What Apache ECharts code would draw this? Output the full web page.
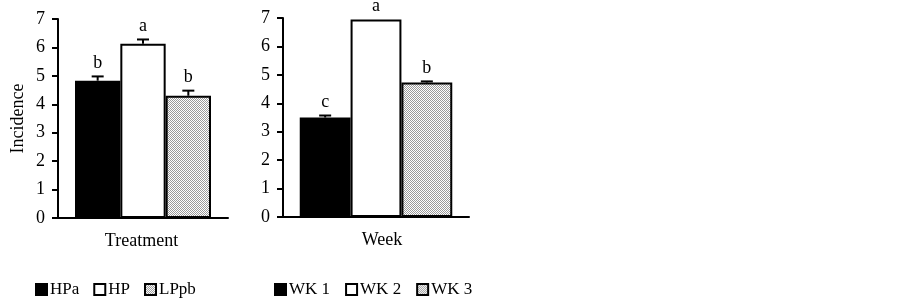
<!DOCTYPE html>
<html><head><meta charset="utf-8">
<script src="https://cdn.jsdelivr.net/npm/echarts@6/dist/echarts.min.js"></script>
<style>html,body{margin:0;padding:0;background:#fff}#c{width:903px;height:299px}</style>
</head><body><div id="c"></div>
<script>
const treatNames = ['HPa', 'HP', 'LPpb'];
const treatValues = [4.83, 6.13, 4.3];
const treatErrTop = [4.98, 6.28, 4.48];
const treatLetters = ['b', 'a', 'b'];

const weekNames = ['WK 1', 'WK 2', 'WK 3'];
const weekValues = [3.5, 6.95, 4.73];
const weekErrTop = [3.57, 6.95, 4.77];
const weekLetters = ['c', 'a', 'b'];

const yTicks = [0, 1, 2, 3, 4, 5, 6, 7];

const FONT = 'Liberation Serif';

// dotted pattern
const pc = document.createElement('canvas');
pc.width = 2; pc.height = 2;
const pctx = pc.getContext('2d');
pctx.fillStyle = '#fff'; pctx.fillRect(0, 0, 2, 2);
pctx.fillStyle = '#9a9a9a';
pctx.fillRect(0, 0, 1, 1); pctx.fillRect(1, 1, 1, 1);
const dotted = { image: pc, repeat: 'repeat' };

const fills = ['#000', '#fff', dotted];
const catGap = ['20%', '18%'];
const catGapNum = [0.2, 0.18];

function barSeries(names, values, axis) {
  return names.map((n, i) => ({
    name: n, type: 'bar', xAxisIndex: axis, yAxisIndex: axis,
    data: [values[i]], barGap: '0%', barCategoryGap: catGap[axis],
    itemStyle: { color: fills[i], borderColor: '#000', borderWidth: 2 },
    emphasis: { disabled: true }, z: 2
  }));
}

function errSeries(values, tops, letters, axis) {
  const data = values.map((v, i) => [0, v, tops[i], i]);
  return {
    type: 'custom', xAxisIndex: axis, yAxisIndex: axis, z: 3,
    data: data,
    renderItem: function (params, api) {
      const v = api.value(1), t = api.value(2), idx = api.value(3);
      const base = api.coord([0, v]);
      const top = api.coord([0, t]);
      const catW = api.size([1, 0])[0];
      const bw = catW * (1 - catGapNum[axis]) / 3;
      const x = base[0] + (idx - 1) * bw;
      const children = [];
      if (t > v) {
        children.push({ type: 'line', shape: { x1: x, y1: base[1], x2: x, y2: top[1] }, style: { stroke: '#000', lineWidth: 2 } });
        children.push({ type: 'line', shape: { x1: x - 6, y1: top[1], x2: x + 6, y2: top[1] }, style: { stroke: '#000', lineWidth: 2 } });
      }
      children.push({ type: 'text', style: { text: letters[idx], x: x, y: top[1] - 4, textAlign: 'center', textVerticalAlign: 'bottom', fill: '#000', font: '18px "' + FONT + '"' } });
      return { type: 'group', children: children };
    }
  };
}

function yAxis(grid, name) {
  return {
    type: 'value', gridIndex: grid, min: 0, max: 7, interval: 1,
    name: name, nameLocation: 'middle', nameGap: 31, nameRotate: 90,
    nameTextStyle: { fontFamily: FONT, fontSize: 18, color: '#000' },
    axisLine: { show: true, lineStyle: { color: '#000', width: 2 } },
    axisTick: { show: true, inside: false, length: 6, lineStyle: { color: '#000', width: 2 } },
    axisLabel: { fontFamily: FONT, fontSize: 18, color: '#000', margin: 13,
      formatter: v => yTicks.includes(v) ? String(v) : '' },
    splitLine: { show: false }
  };
}
function xAxis(grid, name, pad) {
  return {
    type: 'category', gridIndex: grid, data: [''],
    name: name, nameLocation: 'middle', nameGap: 14,
    nameTextStyle: { fontFamily: FONT, fontSize: 18, color: '#000', padding: pad },
    axisLine: { show: true, lineStyle: { color: '#000', width: 2 } },
    axisTick: { show: false }, axisLabel: { show: false }
  };
}

const legendCommon = {
  orient: 'horizontal', top: 276, itemWidth: 11, itemHeight: 11, icon: 'rect',
  textStyle: { fontFamily: FONT, fontSize: 17, color: '#000', padding: [0, 0, 0, -2] },
  selectedMode: false
};

const chart = echarts.init(document.getElementById('c'), null, { renderer: 'canvas' });
chart.setOption({
  animation: false,
  backgroundColor: '#fff',
  grid: [
    { left: 58, width: 170, top: 19, height: 199 },
    { left: 283, width: 186, top: 18, height: 199 }
  ],
  xAxis: [xAxis(0, 'Treatment', [0, 3, 0, 0]), xAxis(1, 'Week', [0, 0, 0, 12])],
  yAxis: [yAxis(0, 'Incidence'), Object.assign(yAxis(1, ''), { name: '' })],
  legend: [
    Object.assign({}, legendCommon, { left: 30, itemGap: 14, data: treatNames }),
    Object.assign({}, legendCommon, { left: 269, itemGap: 15, data: weekNames })
  ],
  series: [].concat(
    barSeries(treatNames, treatValues, 0),
    barSeries(weekNames, weekValues, 1),
    [errSeries(treatValues, treatErrTop, treatLetters, 0),
     errSeries(weekValues, weekErrTop, weekLetters, 1)]
  )
});
</script></body></html>
